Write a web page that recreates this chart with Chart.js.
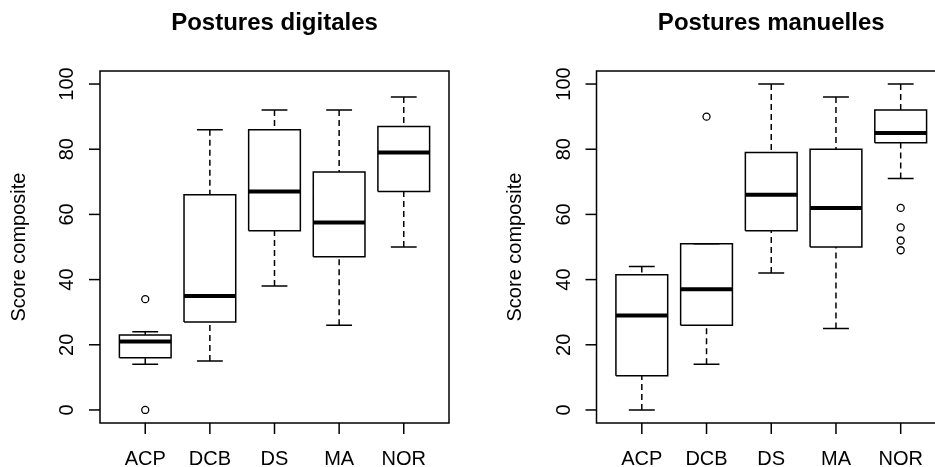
<!DOCTYPE html>
<html>
<head>
<meta charset="utf-8">
<script src="https://cdn.jsdelivr.net/npm/chart.js@4.4.1/dist/chart.umd.min.js"></script>
<style>
  html, body { margin: 0; padding: 0; background: #fff; overflow: hidden; }
  #wrap { position: relative; width: 935px; height: 467px; overflow: hidden; background: #fff; }
  canvas { position: absolute; top: 0; }
  #digitales { left: 0; }
  #manuelles { left: 467px; }
</style>
</head>
<body>
<div id="wrap">
  <canvas id="digitales" width="467" height="467"></canvas>
  <canvas id="manuelles" width="497" height="467"></canvas>
</div>
<script>
// Categories and tick labels
const categories = ['ACP', 'DCB', 'DS', 'MA', 'NOR'];
const yTicks = [0, 20, 40, 60, 80, 100];
const yTitle = 'Score composite';

// Postures digitales (whisker low, Q1, median, Q3, whisker high, outliers)
const digLow = [14, 15, 38, 26, 50];
const digQ1 = [16, 27, 55, 47, 67];
const digMed = [21, 35, 67, 57.5, 79];
const digQ3 = [23, 66, 86, 73, 87];
const digHigh = [24, 86, 92, 92, 96];
const digOut = [[34, 0], [], [], [], []];

// Postures manuelles
const manLow = [0, 14, 42, 25, 71];
const manQ1 = [10.5, 26, 55, 50, 82];
const manMed = [29, 37, 66, 62, 85];
const manQ3 = [41.5, 51, 79, 80, 92];
const manHigh = [44, 51, 100, 96, 100];
const manOut = [[], [90], [], [], [62, 56, 52, 49]];

const FONT = 'Liberation Sans, Arial, sans-serif';
const BOX_HALF = 0.4;   // half box width in category units
const CAP_HALF = 0.2;   // half staple width

// frame, ticks and axis text in the R style
const rAxes = {
    id: 'rAxes',
    afterDraw(chart) {
        const ctx = chart.ctx;
        const a = chart.chartArea;
        const x = chart.scales.x;
        const y = chart.scales.y;
        ctx.save();
        ctx.strokeStyle = '#000';
        ctx.fillStyle = '#000';
        ctx.lineWidth = 1.5;
        ctx.strokeRect(a.left, a.top, a.right - a.left, a.bottom - a.top);

        ctx.font = '20px ' + FONT;
        ctx.textAlign = 'center';
        ctx.textBaseline = 'alphabetic';

        yTicks.forEach(function(v) {
            const py = y.getPixelForValue(v);
            ctx.beginPath();
            ctx.moveTo(a.left - 11, py);
            ctx.lineTo(a.left, py);
            ctx.stroke();
            ctx.save();
            ctx.translate(a.left - 27, py);
            ctx.rotate(-Math.PI / 2);
            ctx.fillText(String(v), 0, 0);
            ctx.restore();
        });

        categories.forEach(function(c, i) {
            const px = x.getPixelForValue(i + 1);
            ctx.beginPath();
            ctx.moveTo(px, a.bottom);
            ctx.lineTo(px, a.bottom + 11);
            ctx.stroke();
            ctx.fillText(c, px, a.bottom + 42);
        });

        ctx.save();
        ctx.translate(a.left - 75.5, (a.top + a.bottom) / 2);
        ctx.rotate(-Math.PI / 2);
        ctx.fillText(yTitle, 0, 0);
        ctx.restore();
        ctx.restore();
    }
};

function gap(i) {
    return {x: i + 1, y: null};
}

function buildChart(id, title, low, q1, med, q3, high, out, padLeft) {
    const whiskers = [], boxes = [], medians = [], caps = [];
    categories.forEach(function(c, i) {
        const cx = i + 1;
        whiskers.push({x: cx, y: high[i]}, {x: cx, y: q3[i]}, gap(i));
        whiskers.push({x: cx, y: low[i]}, {x: cx, y: q1[i]}, gap(i));
        boxes.push(
            {x: cx - BOX_HALF, y: q1[i]}, {x: cx + BOX_HALF, y: q1[i]},
            {x: cx + BOX_HALF, y: q3[i]}, {x: cx - BOX_HALF, y: q3[i]},
            {x: cx - BOX_HALF, y: q1[i]}, gap(i));
        medians.push({x: cx - BOX_HALF, y: med[i]}, {x: cx + BOX_HALF, y: med[i]}, gap(i));
        caps.push({x: cx - CAP_HALF, y: high[i]}, {x: cx + CAP_HALF, y: high[i]}, gap(i));
        caps.push({x: cx - CAP_HALF, y: low[i]}, {x: cx + CAP_HALF, y: low[i]}, gap(i));
    });
    const outliers = out.flatMap(function(vals, i) {
        return vals.map(function(v) { return {x: i + 1, y: v}; });
    });

    const lineDs = function(data, width, dash) {
        return {
            data: data,
            showLine: true,
            borderColor: '#000',
            borderWidth: width,
            borderDash: dash || [],
            borderCapStyle: 'butt',
            borderJoinStyle: 'miter',
            pointRadius: 0,
            pointHoverRadius: 0,
            tension: 0,
            spanGaps: false,
            fill: false
        };
    };

    return new Chart(document.getElementById(id), {
        type: 'scatter',
        data: {
            datasets: [
                lineDs(whiskers, 1.5, [6, 4]),
                lineDs(boxes, 1.5),
                lineDs(medians, 4),
                lineDs(caps, 1.5),
                {
                    data: outliers,
                    pointRadius: 3.5,
                    pointBorderWidth: 1.3,
                    pointBorderColor: '#000',
                    pointBackgroundColor: '#fff',
                    pointStyle: 'circle'
                }
            ]
        },
        options: {
            responsive: false,
            animation: false,
            events: [],
            layout: {
                padding: {left: padLeft, right: 18, top: 0, bottom: 44}
            },
            scales: {
                x: {type: 'linear', min: 0.3, max: 5.7, display: false},
                y: {type: 'linear', min: -4, max: 104, display: false}
            },
            plugins: {
                legend: {display: false},
                tooltip: {enabled: false},
                title: {
                    display: true,
                    text: title,
                    color: '#000',
                    font: {family: FONT, size: 24, weight: 'bold', lineHeight: 1.2},
                    padding: {top: 9, bottom: 33.2}
                }
            }
        },
        plugins: [rAxes]
    });
}

buildChart('digitales', 'Postures digitales', digLow, digQ1, digMed, digQ3, digHigh, digOut, 100);
buildChart('manuelles', 'Postures manuelles', manLow, manQ1, manMed, manQ3, manHigh, manOut, 129.5);
</script>
</body>
</html>
